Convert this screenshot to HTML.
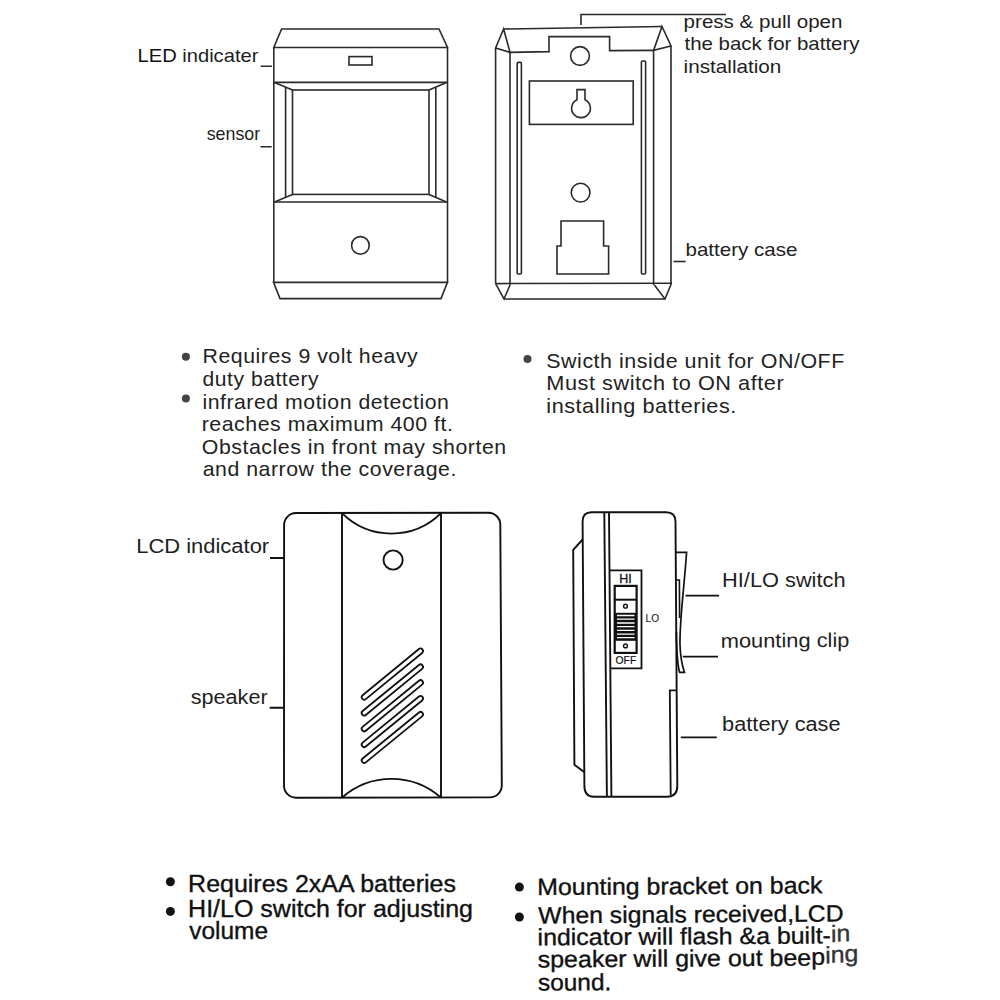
<!DOCTYPE html>
<html><head><meta charset="utf-8">
<style>
html,body{margin:0;padding:0;background:#fff;width:1000px;height:1000px;overflow:hidden}
svg{display:block}
text{font-family:"Liberation Sans",sans-serif;fill:#1e1e1e}
text.k{fill:#111;stroke:#111;stroke-width:0.35}
text.m{letter-spacing:0.5px;fill:#222}
.t{stroke:#2a2a2a;stroke-width:1.6;fill:none}
.b{stroke:#111;stroke-width:1.9;fill:none}
</style></head><body>
<svg width="1000" height="1000" viewBox="0 0 1000 1000">
<rect width="1000" height="1000" fill="#fff"/>

<!-- ===== Top-left: front of sensor ===== -->
<g class="t">
<path d="M281.6 29 L439 29 L447.5 47.5 L273.8 47.5 Z"/>
<path d="M273.8 47.5 L273.8 282.4 M447.5 47.5 L447.5 282.4"/>
<rect x="349" y="56.6" width="23" height="8.4"/>
<path d="M273.5 82.4 L447.5 82.4 M273.5 202 L447.5 202"/>
<rect x="292.5" y="90" width="136.5" height="104.4"/>
<path d="M274.5 82.4 L292.5 90 M446.5 82.4 L429 90 M292.5 194.4 L274.5 202 M429 194.4 L446.5 202"/>
<path d="M285.6 86.9 L285.6 197.5 M435.8 86.9 L435.8 197.5"/>
<path d="M273.5 282.4 L447.5 282.4 L441 298.6 L280 298.6 Z"/>
<circle cx="360.4" cy="245.4" r="8.8"/>
<path d="M260.7 66.3 L271.9 66.3 M260.5 146.7 L271.7 146.7"/>
</g>
<!-- ===== Top-right: back of sensor ===== -->
<g class="t">
<path d="M503.6 29 L662 26.5"/>
<path d="M503.6 29 L495.6 48 L510 52.4 Z M662 26.5 L671 46 L653.6 50.4 Z"/>
<path d="M510 52.4 L549 51.6 L549 36.6 L609.6 36.6 L609.6 50.6 L653.6 50.4"/>
<path d="M495.6 48 L495.6 283.6 M510 52.4 L510 285 M671 46 L671 283.4 M653.6 50.4 L653.6 285"/>
<path d="M495.6 283.6 L672 283.2"/>
<path d="M495.6 283.6 L504 299 L510 285 M504 299 L665 299 M654.4 285 L665 299 L671.5 283.3"/>
<circle cx="580" cy="56" r="9.4"/>
<rect x="517.2" y="62.4" width="4.2" height="211.6" rx="1"/>
<rect x="641.4" y="61" width="4.2" height="213" rx="1"/>
<rect x="529.4" y="81" width="103.8" height="43.4"/>
<path d="M577 99.7 L577 89.6 L585 89.6 L585 99.7 A9.4 9.4 0 1 1 577 99.7 Z"/>
<circle cx="580.6" cy="192.6" r="9.4"/>
<path d="M561 221 L603.6 221 L603.6 246 L608.6 246 L608.6 274 L557 274 L557 246 L561 246 Z"/>
<path d="M581 25 L581 14.5 L726 14.5"/>
<path d="M673.5 261.5 L685.7 261.5"/>
</g>
<!-- ===== top labels ===== -->
<!-- ===== middle bullets ===== -->
<circle cx="185.9" cy="356.8" r="4" fill="#444"/>
<circle cx="185.9" cy="398.4" r="4" fill="#444"/>
<circle cx="527.5" cy="359.1" r="4" fill="#444"/>
<!-- ===== Bottom-left: receiver front ===== -->
<g class="b">
<path d="M296 513 L488.4 512.7 A12 12 0 0 1 500.3 524.7 L501.8 785.5 A12 12 0 0 1 489.8 797.4 L296 797.7 A12 12 0 0 1 284 785.7 L284.1 525 A12 12 0 0 1 296 513 Z"/>
<path d="M342 513.2 L342 797.7 M441 513.2 L441 797.7"/>
<path d="M342 513.2 A70.25 70.25 0 0 0 441 513.2"/>
<path d="M342 797.7 A74.6 74.6 0 0 1 441 797.7"/>
<circle cx="393.1" cy="560" r="9.6"/>
<path d="M270 558 L284 558 M269.7 707.7 L283 707.7"/>
</g>
<path d="M364.2 697.2 L420.5 651.0 M364.2 713.0 L420.5 666.9 M364.2 728.8 L420.5 682.7 M364.2 744.6 L420.5 698.5 M364.2 760.4 L420.5 714.4" stroke="#111" stroke-width="6.8" stroke-linecap="round" fill="none"/>
<path d="M364.2 697.2 L420.5 651.0 M364.2 713.0 L420.5 666.9 M364.2 728.8 L420.5 682.7 M364.2 744.6 L420.5 698.5 M364.2 760.4 L420.5 714.4" stroke="#fff" stroke-width="3.2" stroke-linecap="round" fill="none"/>
<!-- ===== Bottom-right: receiver side ===== -->
<g class="b">
<path d="M582.6 521.5 Q582.6 512.2 591.5 512.2 L666 512.2 Q675.5 512.2 675.5 521.5 L677.3 786 Q677.3 796.8 667 796.8 L594 796.8 Q584.4 796.8 584.4 786 Z"/>
<path d="M604.3 512.2 L606.9 796.8 M609 512.2 L611.4 796.8"/>
<path d="M582.6 539.5 L573.2 549.9 L574.4 764.7 L584.2 771.9"/>
<path d="M609.2 570.4 L641.5 570.4 L641.5 668.4 L610 668.4" stroke-width="1.8"/>
<path d="M675.8 552.3 L686.6 552.3 C 684 590, 679.5 620, 680 645 C 680.5 660, 683 668, 684.5 672.4 L679.6 672.4 C 677.6 665, 676.6 650, 676.4 632" stroke-width="1.7"/>
<path d="M675.8 580 L679.4 580 L679.6 618" stroke-width="1.6"/>
<path d="M676.2 690.4 L669.8 690.4 L670.7 795" stroke-width="1.8"/>
<path d="M685.5 595.6 L719.1 595.6 M682.8 656.7 L718 656.7 M680.8 737.3 L716.8 737.3" stroke-width="1.8"/>
</g>
<rect x="614.7" y="585.9" width="21.9" height="67" fill="none" stroke="#111" stroke-width="2.2"/>
<path d="M614.7 599.7 L636.6 599.7" stroke="#111" stroke-width="2"/>
<rect x="615" y="612.8" width="21.3" height="28" fill="#111"/>
<path d="M617 615.5 L634.5 615.5 M617 619.2 L634.5 619.2 M617 623 L634.5 623 M617 626.7 L634.5 626.7 M617 630.4 L634.5 630.4 M617 634.2 L634.5 634.2 M617 637.6 L634.5 637.6" stroke="#fff" stroke-width="1.3"/>
<circle cx="625.5" cy="606.2" r="1.9" fill="none" stroke="#111" stroke-width="1.4"/>
<circle cx="625.5" cy="645.9" r="1.9" fill="none" stroke="#111" stroke-width="1.4"/>
<text x="619.3" y="582.9" font-size="12" textLength="12.4" lengthAdjust="spacingAndGlyphs" style="fill:#111;stroke:#111;stroke-width:0.3">HI</text>
<text x="645.5" y="622.1" font-size="11.2" textLength="13.6" lengthAdjust="spacingAndGlyphs" style="fill:#111">LO</text>
<text x="615.6" y="664.3" font-size="11.6" textLength="20.6" lengthAdjust="spacingAndGlyphs" style="fill:#111;stroke:#111;stroke-width:0.2">OFF</text>
<!-- ===== bottom labels ===== -->
<circle cx="170.4" cy="881.8" r="4.5" fill="#111"/>
<circle cx="170.4" cy="911.4" r="4.5" fill="#111"/>
<circle cx="519.4" cy="887.1" r="4.5" fill="#111"/>
<circle cx="519.4" cy="917" r="4.5" fill="#111"/>

<text class="n" x="137.5" y="62.4" font-size="19" textLength="120.9" lengthAdjust="spacingAndGlyphs"><tspan style='fill:#111'>LED</tspan> indicater</text>
<text class="n" x="206.7" y="139.7" font-size="19" textLength="53.5" lengthAdjust="spacingAndGlyphs">sensor</text>
<text class="n" x="683.6" y="28.0" font-size="18.5" textLength="158.9" lengthAdjust="spacingAndGlyphs">press &amp; pull open</text>
<text class="n" x="684.5" y="50.2" font-size="18.5" textLength="175.0" lengthAdjust="spacingAndGlyphs">the back for battery</text>
<text class="n" x="683.6" y="72.6" font-size="18.5" textLength="97.8" lengthAdjust="spacingAndGlyphs">installation</text>
<text class="n" x="685.5" y="255.5" font-size="19" textLength="111.9" lengthAdjust="spacingAndGlyphs">battery case</text>
<text class="m" x="202.6" y="363.0" font-size="20.2" textLength="215.7" lengthAdjust="spacingAndGlyphs">Requires 9 volt heavy</text>
<text class="m" x="202.6" y="385.7" font-size="20.2" textLength="116.5" lengthAdjust="spacingAndGlyphs">duty battery</text>
<text class="m" x="202.4" y="408.6" font-size="20.2" textLength="247.0" lengthAdjust="spacingAndGlyphs">infrared motion detection</text>
<text class="m" x="201.7" y="431.1" font-size="20.2" textLength="251.8" lengthAdjust="spacingAndGlyphs">reaches maximum 400 ft.</text>
<text class="m" x="201.8" y="454.0" font-size="20.2" textLength="304.9" lengthAdjust="spacingAndGlyphs">Obstacles in front may shorten</text>
<text class="m" x="202.7" y="476.4" font-size="20.2" textLength="254.2" lengthAdjust="spacingAndGlyphs">and narrow the coverage.</text>
<text class="m" x="546.3" y="368.3" font-size="20.2" textLength="298.5" lengthAdjust="spacingAndGlyphs">Swicth inside unit for ON/OFF</text>
<text class="m" x="546.3" y="390.4" font-size="20.2" textLength="237.9" lengthAdjust="spacingAndGlyphs">Must switch to ON after</text>
<text class="m" x="546.3" y="412.5" font-size="20.2" textLength="190.5" lengthAdjust="spacingAndGlyphs">installing batteries.</text>
<text class="n" x="136.2" y="553.2" font-size="20" textLength="133.0" lengthAdjust="spacingAndGlyphs">LCD indicator</text>
<text class="n" x="190.7" y="704.4" font-size="20" textLength="77.0" lengthAdjust="spacingAndGlyphs">speaker</text>
<text class="n" x="722.1" y="586.6" font-size="20" textLength="123.4" lengthAdjust="spacingAndGlyphs">HI/LO switch</text>
<text class="n" x="722.1" y="730.5" font-size="20" textLength="118.5" lengthAdjust="spacingAndGlyphs">battery case</text>
<text class="k" x="188.1" y="891.8" font-size="23.5" textLength="267.9" lengthAdjust="spacingAndGlyphs">Requires 2xAA batteries</text>
<text class="k" x="188.1" y="916.5" font-size="23.5" textLength="284.9" lengthAdjust="spacingAndGlyphs">HI/LO switch for adjusting</text>
<text class="k" x="189.2" y="939.0" font-size="23.5" textLength="78.9" lengthAdjust="spacingAndGlyphs">volume</text>
<g transform="rotate(-0.37 538 945)"><text class="n" x="722.6" y="648.9" font-size="20" textLength="128.8" lengthAdjust="spacingAndGlyphs">mounting clip</text>
<text class="k" x="537.5" y="895.1" font-size="23.5" textLength="285.3" lengthAdjust="spacingAndGlyphs">Mounting bracket on back</text>
<text class="k" x="538.5" y="923.4" font-size="23.5" textLength="305.2" lengthAdjust="spacingAndGlyphs">When signals received,LCD</text>
<text class="k" x="537.6" y="945.3" font-size="23.5" textLength="312.7" lengthAdjust="spacingAndGlyphs">indicator will flash &amp;a built-<tspan dy='-1.3 -0.9' style='fill:#333;stroke:#333'>in</tspan></text>
<text class="k" x="537.6" y="967.4" font-size="23.5" textLength="320.8" lengthAdjust="spacingAndGlyphs">speaker will give out bee<tspan dy='-0.8'>p</tspan><tspan dy='-1.5 -0.6 -1.0' style='fill:#333;stroke:#333'>ing</tspan></text>
<text class="k" x="537.6" y="990.6" font-size="23.5" textLength="73.5" lengthAdjust="spacingAndGlyphs">sound.</text></g>
</svg>
</body></html>
